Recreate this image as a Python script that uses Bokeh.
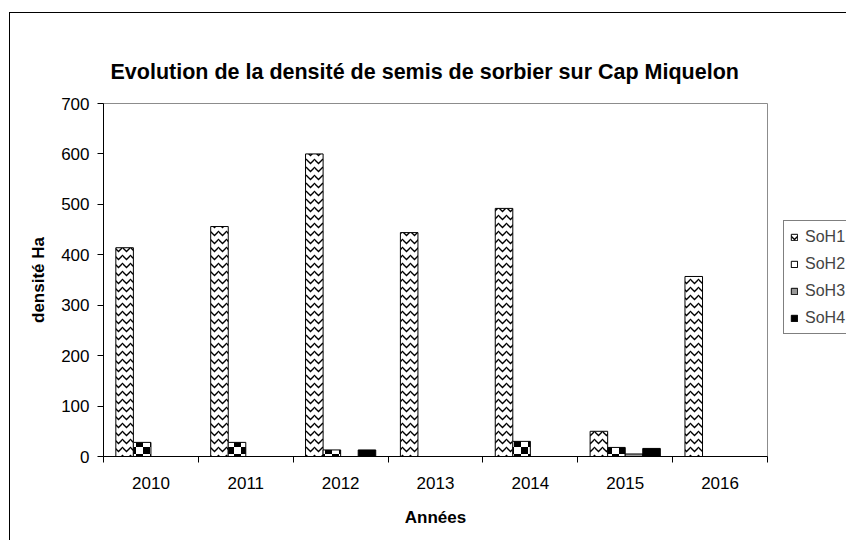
import numpy as np
from bokeh.plotting import figure
from bokeh.layouts import row
from bokeh.models import (ColumnDataSource, Range1d, FixedTicker, Legend, LegendItem,
                          CanvasTexture)
from bokeh.core.properties import value
from bokeh.transform import dodge
from bokeh.embed import file_html
from bokeh.resources import INLINE

# ---- data ----
years = ["2010", "2011", "2012", "2013", "2014", "2015", "2016"]
soh1 = [414, 456, 600, 444, 492, 50, 357]
soh2 = [28, 28, 13, 0, 30, 18, 0]
soh3 = [0, 0, 0, 0, 0, 5, 0]
soh4 = [0, 0, 13, 0, 0, 16, 0]
series_names = ["SoH1", "SoH2", "SoH3", "SoH4"]
y_ticks = [0, 100, 200, 300, 400, 500, 600, 700]

FONT = "Liberation Sans"

xc = np.arange(len(years)) + 0.5
src = ColumnDataSource(dict(xc=xc, soh1=soh1, soh2=soh2, soh3=soh3, soh4=soh4))

checker = CanvasTexture(code="""
const s = 14;
ctx.canvas.width = s;
ctx.canvas.height = s;
ctx.setTransform(1, 0, 0, 1, 0, 0);
ctx.fillStyle = 'white';
ctx.fillRect(0, 0, s, s);
ctx.fillStyle = 'black';
ctx.fillRect(s / 2, 0, s / 2, s / 2);
ctx.fillRect(0, s / 2, s / 2, s / 2);
""", repetition="repeat")

w = 0.185
offs = [-0.2775, -0.0925, 0.0925, 0.2775]
styles = [
    dict(fill_color="white", line_color="black", line_width=1,
         hatch_pattern="horizontal_wave", hatch_color="black", hatch_scale=8, hatch_weight=1.3),
    dict(fill_color="white", line_color="black", line_width=1,
         hatch_pattern=value("checker"), hatch_extra={"checker": checker},
         hatch_color="black", hatch_scale=14),
    dict(fill_color="#999999", line_color="black", line_width=1),
    dict(fill_color="black", line_color="black", line_width=1),
]
fields = ["soh1", "soh2", "soh3", "soh4"]

p = figure(width=765, height=527, output_backend="svg", toolbar_location=None,
           x_range=Range1d(0, len(years)), y_range=Range1d(0, 700),
           min_border_left=93, min_border_right=8, min_border_top=90, min_border_bottom=84)

p.outline_line_color = "#8c8c8c"
p.outline_line_width = 1
p.xgrid.visible = False
p.ygrid.visible = False
p.background_fill_color = "white"
p.border_fill_color = "white"

p.title.text = "Evolution de la densité de semis de sorbier sur Cap Miquelon"
p.title.text_font = FONT
p.title.text_font_size = "21.5px"
p.title.text_font_style = "bold"
p.title.text_color = "black"
p.title.align = "left"
p.title.offset = 7
p.title.standoff = 40

renderers = []
for off, f, st in zip(offs, fields, styles):
    renderers.append(p.vbar(x=dodge("xc", off), top=f, width=w, source=src, **st))

# x axis: labels at centres, ticks at category boundaries
xa = p.xaxis[0]
xa.ticker = FixedTicker(ticks=list(xc), minor_ticks=list(np.arange(len(years) + 1)))
xa.major_label_overrides = {float(v): y for v, y in zip(xc, years)}
xa.major_tick_line_color = None
xa.major_tick_out = 0
xa.major_tick_in = 0
xa.minor_tick_line_color = "black"
xa.minor_tick_out = 6
xa.minor_tick_in = 0
xa.axis_line_color = "black"
xa.major_label_text_font = FONT
xa.major_label_text_font_size = "17px"
xa.major_label_text_color = "black"
xa.major_label_standoff = 14
xa.axis_label = "Années"
xa.axis_label_text_font = FONT
xa.axis_label_text_font_size = "17px"
xa.axis_label_text_font_style = "bold"
xa.axis_label_text_color = "black"
xa.axis_label_standoff = 16

ya = p.yaxis[0]
ya.ticker = FixedTicker(ticks=y_ticks, minor_ticks=[])
ya.major_tick_out = 6
ya.major_tick_in = 0
ya.major_tick_line_color = "black"
ya.minor_tick_line_color = None
ya.axis_line_color = "black"
ya.major_label_text_font = FONT
ya.major_label_text_font_size = "17px"
ya.major_label_text_color = "black"
ya.major_label_standoff = 8
ya.axis_label = "densité Ha"
ya.axis_label_text_font = FONT
ya.axis_label_text_font_size = "17px"
ya.axis_label_text_font_style = "bold"
ya.axis_label_text_color = "black"
ya.axis_label_standoff = 10

# legend panel (second canvas to the right of the plot)
p2 = figure(width=71, height=527, output_backend="svg", toolbar_location=None,
            x_axis_location=None, y_axis_location=None,
            x_range=Range1d(-100, -99), y_range=Range1d(-100, -99),
            min_border=0)
p2.outline_line_color = None
p2.xgrid.visible = False
p2.ygrid.visible = False
p2.background_fill_color = "white"
p2.border_fill_color = "white"
leg_r = []
for off, f, st in zip(offs, fields, styles):
    leg_r.append(p2.vbar(x=dodge("xc", off), top=f, width=w, source=src, **st))

legend = Legend(items=[LegendItem(label=n, renderers=[r])
                       for n, r in zip(series_names, leg_r)],
                location=(8, 122), orientation="vertical",
                label_text_font=FONT, label_text_font_size="16px",
                glyph_width=8, glyph_height=8, label_standoff=7,
                label_width=80, label_height=19, spacing=8, padding=6, margin=0,
                border_line_color="black", border_line_width=1,
                background_fill_color="white", background_fill_alpha=1.0)
p2.add_layout(legend, "center")

layout = row(p, p2, margin=(12, 0, 0, 9),
             styles={"border-left": "1px solid black", "border-top": "1px solid black"})

open("out.html", "w").write(file_html(layout, INLINE))
